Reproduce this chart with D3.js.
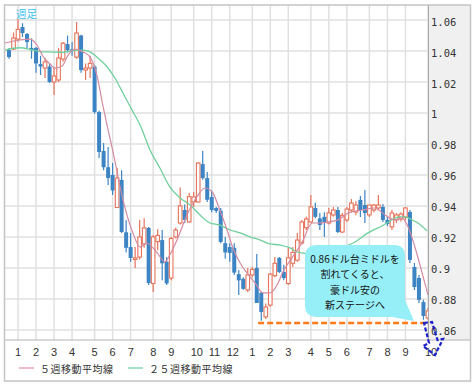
<!DOCTYPE html>
<html><head><meta charset="utf-8">
<script src="https://cdn.jsdelivr.net/npm/d3@7"></script>
<style>body{margin:0;background:#fff}svg{display:block}</style>
</head><body>
<svg id="c" width="474" height="387"></svg>
<script>
// ---- data (weekly candles, index 0 = mid Dec 2012) ----
const openV = [1.0406,1.0413,1.0477,1.0555,1.051,1.042,1.042,1.0316,1.029,1.030,
1.020,1.0213,1.0348,1.0445,1.041,1.036,1.050,1.0277,1.029,1.030,
1.0006,0.9755,0.965,0.960,0.939,0.9568,0.923,0.9135,0.9055,0.907,
0.9155,0.9258,0.890,0.917,0.918,0.904,0.8935,0.920,0.929,0.9374,
0.9297,0.9426,0.9426,0.967,0.958,0.9458,0.9387,0.937,0.916,0.9135,
0.913,0.896,0.893,0.8858,0.8955,0.900,0.884,0.8684,0.876,0.895,
0.9065,0.8974,0.890,0.903,0.905,0.9161,0.926,0.9297,0.9387,0.932,
0.933,0.929,0.9342,0.9374,0.9232,0.931,0.9374,0.9361,0.9439,0.9406,
0.9342,0.9374,0.9387,0.9394,0.931,0.9265,0.931,0.9316,0.9329,0.9361,
0.9006,0.8935,0.878,0.8677];
const highV = [1.042,1.052,1.0606,1.058,1.0516,1.048,1.0426,1.037,1.0355,1.032,
1.0297,1.042,1.0458,1.050,1.046,1.0587,1.0505,1.032,1.037,1.031,
1.0015,0.9806,0.978,0.9677,0.9645,0.963,0.931,0.9226,0.9135,0.931,
0.932,0.9265,0.9213,0.925,0.9245,0.907,0.920,0.926,0.952,0.941,
0.9484,0.949,0.9684,0.9755,0.962,0.950,0.9394,0.9387,0.920,0.916,
0.916,0.8987,0.894,0.900,0.9006,0.909,0.8845,0.877,0.8968,0.907,
0.907,0.902,0.913,0.9135,0.9226,0.931,0.933,0.947,0.942,0.9355,
0.936,0.9387,0.9394,0.9394,0.9355,0.9394,0.9445,0.9432,0.9465,0.9503,
0.9406,0.9413,0.9471,0.9413,0.9329,0.9374,0.9355,0.936,0.9394,0.9374,
0.9032,0.8955,0.8794,0.8742];
const lowV = [1.035,1.0406,1.046,1.049,1.042,1.035,1.026,1.0245,1.0226,1.0194,
1.0116,1.020,1.033,1.039,1.037,1.035,1.026,1.0213,1.0226,0.9996,
0.971,0.963,0.9535,0.947,0.9387,0.9226,0.910,0.904,0.900,0.9055,
0.913,0.889,0.8845,0.9115,0.892,0.889,0.892,0.919,0.928,0.929,
0.929,0.9394,0.942,0.957,0.9426,0.936,0.9355,0.916,0.906,0.904,
0.8955,0.8826,0.886,0.8845,0.894,0.8774,0.866,0.867,0.875,0.894,
0.8968,0.892,0.889,0.9006,0.904,0.915,0.9245,0.929,0.932,0.9245,
0.920,0.928,0.933,0.9226,0.9226,0.9297,0.936,0.934,0.9329,0.929,
0.9329,0.936,0.937,0.9297,0.927,0.9245,0.929,0.930,0.931,0.9032,
0.8858,0.8774,0.8665,0.8665];
const closeV = [1.0361,1.0484,1.054,1.0516,1.0458,1.0406,1.032,1.030,1.033,1.020,
1.0239,1.0355,1.045,1.0406,1.040,1.0516,1.0277,1.029,1.032,1.0006,
0.9748,0.965,0.958,0.950,0.958,0.9232,0.913,0.9065,0.9065,0.920,
0.9258,0.8903,0.920,0.921,0.903,0.890,0.919,0.9245,0.940,0.931,
0.946,0.9458,0.9677,0.958,0.944,0.9374,0.9368,0.9168,0.910,0.9097,
0.897,0.892,0.8865,0.8955,0.899,0.8774,0.8716,0.8748,0.896,0.903,
0.8974,0.8935,0.9065,0.910,0.918,0.9297,0.9316,0.9394,0.933,0.9277,
0.9297,0.9355,0.9374,0.9232,0.934,0.938,0.9419,0.9406,0.9374,0.9355,
0.9406,0.9406,0.9406,0.931,0.9284,0.9355,0.9342,0.9348,0.9387,0.9052,
0.8877,0.8794,0.869,0.8723];

// moving averages: [week position, value]
const ma5Weeks = [-0.9,2.4,4.7,6.2,7.5,9.1,10.2,11.8,13.1,14.7,16.4,18,19.5,20.9,22,23.1,25.3,27.5,29.1,30.6,32.9,34.6,35.7,37.3,39.5,41.7,43.5,45.1,46.8,48.4,49.7,51.3,52.8,54.6,56.4,57.9,59.5,60.8,62.8,65,67.3,68.6,70.8,73,75.3,78.4,81.2,83.5,85.7,87.2,88.6,90.1,91.7,93];
const ma5Vals  = [1.0452,1.0471,1.0477,1.0439,1.0368,1.0316,1.029,1.0303,1.0374,1.0413,1.0394,1.0361,1.0245,1.0039,0.989,0.9748,0.9439,0.9226,0.9135,0.9161,0.9097,0.9039,0.9084,0.9181,0.9342,0.9458,0.9516,0.949,0.9374,0.9245,0.9129,0.9032,0.8968,0.8903,0.8839,0.8839,0.889,0.8974,0.9065,0.9161,0.929,0.929,0.9297,0.931,0.9355,0.9374,0.9387,0.9342,0.931,0.9323,0.9265,0.9135,0.8968,0.8826];
const ma25Weeks = [-0.9,2.4,5.3,7.5,12,14.2,16.4,18,19.5,21.8,23.5,25.3,27.3,29.1,31.3,33.5,35.7,38,40.2,42.4,44.6,46.8,49.1,51.3,53.5,55.7,57.9,60.2,62.4,63.9,67.3,70.4,73,76.4,79.7,82.8,86.8,87.9,89.5,90.8,92.8];
const ma25Vals  = [1.0406,1.0421,1.0406,1.0394,1.0392,1.0402,1.0406,1.0394,1.0361,1.0297,1.0226,1.0129,1.0019,0.9923,0.9761,0.9645,0.9523,0.9452,0.9406,0.9342,0.929,0.9277,0.9245,0.9226,0.920,0.9181,0.9155,0.9148,0.9129,0.9103,0.909,0.9103,0.9123,0.9161,0.9226,0.9271,0.9329,0.9329,0.931,0.929,0.9239];

const monthLabels = ["1","2","3","4","5","6","7","8","9","10","11","12","1","2","3","4","5","6","7","8","9","10"];
const monthWeeks  = [2,6,10,14,19,23,27,32,36,41,45,49,54,58,62,67,71,75,80,84,88,93];
const yTicks = [1.06,1.04,1.02,1.00,0.98,0.96,0.94,0.92,0.90,0.88,0.86];
const yTickLabels = ["1.06","1.04","1.02","1","0.98","0.96","0.94","0.92","0.9","0.88","0.86"];
const supportLevel = 0.8645;
const calloutLines = ["0.86ドル台ミドルを","割れてくると、","豪ドル安の","新ステージへ"];
const legendItems = [{label:"５週移動平均線",color:"#e8a6b6"},{label:"２５週移動平均線",color:"#86d8b2"}];

// ---- layout ----
const P = {l:4.5, r:428.5, t:5, b:340};
const x = d3.scaleLinear().domain([-1, 93.12]).range([P.l, P.r]);
const y = d3.scaleLinear().domain([0.8535, 1.0697]).range([P.b, P.t]);
const svg = d3.select("#c");
const UP = "#e6735a", DN = "#3c84c4";

svg.append("rect").attr("width",474).attr("height",387).attr("fill","#fff");
svg.append("rect").attr("x",P.r).attr("y",P.t).attr("width",470-P.r).attr("height",P.b-P.t).attr("fill","#f0f0f0");

svg.append("defs").append("clipPath").attr("id","pc").append("rect")
  .attr("x",P.l).attr("y",P.t).attr("width",P.r-P.l).attr("height",P.b-P.t);

// grid
const g = svg.append("g").attr("stroke","#e0e0e0").attr("stroke-width",1.5);
g.selectAll("line.h").data(yTicks).join("line")
  .attr("x1",P.l).attr("x2",P.r).attr("y1",d=>y(d)).attr("y2",d=>y(d));
g.selectAll("line.v").data(monthWeeks).join("line")
  .attr("x1",d=>x(d)).attr("x2",d=>x(d)).attr("y1",P.t).attr("y2",P.b);

// candles
const idx = d3.range(openV.length);
const cg = svg.append("g").attr("clip-path","url(#pc)");
idx.forEach(i=>{
  const o=openV[i], c=closeV[i], h=highV[i], lo=lowV[i];
  const up = c>=o, col = up?UP:DN, cx = x(i);
  cg.append("line").attr("x1",cx).attr("x2",cx).attr("y1",y(h)).attr("y2",y(lo))
    .attr("stroke",col).attr("stroke-width",1.2);
  const top = y(Math.max(o,c)), bot = y(Math.min(o,c));
  if (up) {
    cg.append("rect").attr("x",cx-1.8).attr("y",top).attr("width",3.6).attr("height",Math.max(bot-top,1))
      .attr("fill","#fff").attr("stroke",col).attr("stroke-width",1.1);
  } else {
    cg.append("rect").attr("x",cx-2).attr("y",top).attr("width",4).attr("height",Math.max(bot-top,1.2))
      .attr("fill",col);
  }
});

// moving averages
const line = d3.line().x(d=>x(d[0])).y(d=>y(d[1])).curve(d3.curveMonotoneX);
cg.append("path").attr("d",line(ma25Weeks.map((w,k)=>[w,ma25Vals[k]])))
  .attr("fill","none").attr("stroke","#6fd09c").attr("stroke-width",1.3);
cg.append("path").attr("d",line(ma5Weeks.map((w,k)=>[w,ma5Vals[k]])))
  .attr("fill","none").attr("stroke","#d38aa2").attr("stroke-width",1.2);

// support dashed line
svg.append("line").attr("x1",x(55.3)).attr("x2",x(93.3)).attr("y1",y(supportLevel)).attr("y2",y(supportLevel))
  .attr("stroke","#ff7a1a").attr("stroke-width",2.4).attr("stroke-dasharray","6,3");

// callout
svg.append("path")
  .attr("d","M317,245 H394 Q405,245 405,256 V300 L414,321 L392,317 H317 Q305,317 305,305 V257 Q305,245 317,245 Z")
  .attr("fill","#96eef6");
svg.append("g").selectAll("text").data(calloutLines).join("text")
  .attr("x",355).attr("y",(d,k)=>258+k*15.5).attr("text-anchor","middle").attr("dominant-baseline","central")
  .attr("font-family","'Noto Sans CJK JP'").attr("font-size",10).attr("fill","#111").text(d=>d);

// axes labels
svg.append("line").attr("x1",P.r).attr("x2",P.r).attr("y1",P.t).attr("y2",P.b).attr("stroke","#a8a8a8").attr("stroke-width",1);
svg.append("line").attr("x1",P.l).attr("x2",470).attr("y1",P.b).attr("y2",P.b).attr("stroke","#b4b4b4").attr("stroke-width",1.2);
svg.append("g").selectAll("text").data(yTicks).join("text")
  .attr("x",431).attr("y",d=>y(d)+1.5).attr("dominant-baseline","central")
  .attr("font-family","'DejaVu Sans Mono'").attr("font-size",10.5).attr("fill","#333")
  .text((d,k)=>yTickLabels[k]);
svg.append("g").selectAll("text").data(monthWeeks).join("text")
  .attr("x",d=>x(d)-3).attr("y",352).attr("dominant-baseline","central")
  .attr("font-family","'Liberation Sans'").attr("font-size",11).attr("fill","#333")
  .text((d,k)=>monthLabels[k]);

// blue dashed arrow
svg.append("path").attr("d","M424,323 L432,322 L437.5,340 L443,339 L435,355 L423,346 L429,343 Z")
  .attr("fill","none").attr("stroke","#1e22c8").attr("stroke-width",2.2).attr("stroke-dasharray","4,2");

// frame
svg.append("rect").attr("x",4.5).attr("y",5).attr("width",466).attr("height",376)
  .attr("fill","none").attr("stroke","#c4c4c4").attr("stroke-width",1.5);

// legend
const lg = svg.append("g");
const lx = [19,128];
legendItems.forEach((it,k)=>{
  lg.append("line").attr("x1",lx[k]).attr("x2",lx[k]+15).attr("y1",368).attr("y2",368).attr("stroke",it.color).attr("stroke-width",1.5);
  lg.append("text").attr("x",lx[k]+21).attr("y",368).attr("dominant-baseline","central")
    .attr("font-family","'Noto Sans CJK JP'").attr("font-size",10).attr("letter-spacing",0.5).attr("fill","#333").text(it.label);
});

// period label
svg.append("text").attr("x",16).attr("y",13.5).attr("dominant-baseline","central")
  .attr("font-family","'Noto Sans CJK JP'").attr("font-size",10.5).attr("fill","#3cc0f0").text("週足");
</script>
</body></html>
